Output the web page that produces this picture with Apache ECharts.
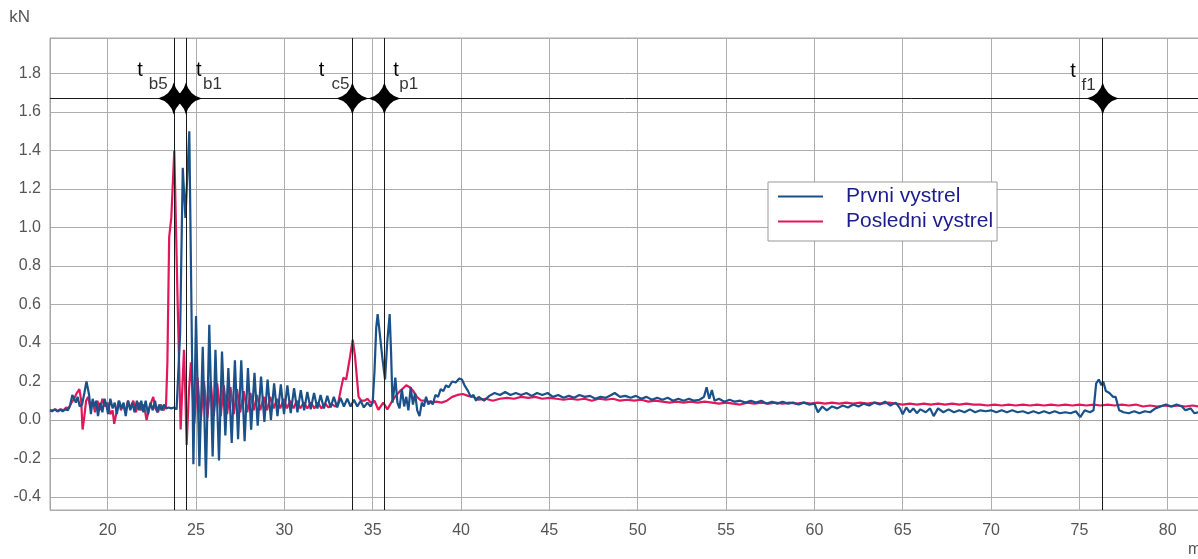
<!DOCTYPE html>
<html><head><meta charset="utf-8">
<script src="https://cdn.jsdelivr.net/npm/echarts@6/dist/echarts.min.js"></script>
<style>html,body{margin:0;padding:0;background:#fff;overflow:hidden}#c{width:1198px;height:559px}</style>
</head><body><div id="c"></div>
<script>
// ---- axis ranges / labels ----
const xRange = [16.735, 81.77];
const yRange = [-0.468, 1.985];
const xName = 'ms';
const yName = 'kN';
const seriesNames = ['Prvni vystrel', 'Posledni vystrel'];

// ---- event markers ----
const markerTimes = [23.74, 24.43, 33.85, 35.66, 76.32];
const markerSubs = ['b5', 'b1', 'c5', 'p1', 'f1'];
const markerLevel = 1.67;

// ---- Prvni vystrel (blue) [ms, kN] ----
const bluePre = [[16.73,0.05],[16.85,0.045],[17.0,0.055],[17.15,0.045],[17.3,0.055],[17.45,0.045],[17.6,0.055],[17.75,0.05],[17.88,0.08],[18.0,0.13],[18.1,0.12],[18.2,0.09],[18.3,0.12],[18.42,0.07],[18.55,0.08],[18.68,0.14],[18.8,0.2],[18.86,0.21],[18.95,0.13],[19.05,0.03],[19.15,0.11],[19.25,0.07],[19.35,0.1],[19.45,0.02],[19.58,0.09],[19.7,0.04],[19.82,0.11],[19.92,0.08],[20.02,0.03],[20.15,0.11],[20.28,0.06],[20.4,0.09],[20.52,0.03],[20.65,0.1],[20.78,0.06],[20.9,0.09],[21.02,0.02],[21.15,0.1],[21.28,0.05],[21.4,0.09],[21.52,0.04],[21.65,0.1],[21.78,0.05],[21.9,0.1],[22.02,0.04],[22.15,0.1],[22.28,0.03],[22.42,0.09],[22.55,0.05],[22.68,0.1],[22.8,0.04],[22.92,0.08],[23.05,0.05],[23.18,0.08],[23.3,0.06],[23.45,0.065],[23.6,0.06],[23.75,0.065],[23.9,0.055],[24.0,0.06]];
const blueImpact = [[24.1,0.45],[24.25,1.31],[24.4,1.05],[24.62,1.5],[24.85,-0.23],[25.0,0.54],[25.19,-0.24],[25.38,0.38],[25.56,-0.3],[25.75,0.495],[25.94,-0.19],[26.1,0.365],[26.3,-0.21],[26.47,0.356],[26.66,-0.08],[26.83,0.27],[27.02,-0.12],[27.2,0.31],[27.38,-0.1],[27.56,0.31],[27.75,-0.11],[27.94,0.27],[28.12,-0.05],[28.31,0.245],[28.49,-0.03],[28.68,0.225],[28.87,-0.01],[29.05,0.21],[29.24,0.0],[29.42,0.19],[29.61,0.02],[29.8,0.185],[29.98,0.03],[30.17,0.18]];
const blueDecay = [[30.36,0.035],[30.55,0.165],[30.74,0.04],[30.93,0.155],[31.12,0.05],[31.3,0.145],[31.49,0.055],[31.68,0.14],[31.87,0.06],[32.05,0.13],[32.24,0.06],[32.43,0.125],[32.62,0.065],[32.8,0.12],[32.99,0.065],[33.18,0.115],[33.37,0.07],[33.56,0.11],[33.75,0.07],[33.94,0.105],[34.13,0.07],[34.32,0.1],[34.5,0.065],[34.7,0.09],[34.88,0.07],[35.0,0.09]];
const blueRebound = [[35.1,0.25],[35.2,0.48],[35.28,0.55],[35.4,0.45],[35.55,0.32],[35.7,0.21],[35.82,0.4],[35.96,0.55],[36.04,0.35],[36.12,0.09],[36.2,0.15],[36.28,0.22],[36.4,0.09],[36.52,0.06],[36.65,0.16],[36.78,0.07],[36.9,0.12],[37.02,0.05],[37.15,0.17],[37.28,0.08],[37.4,0.14],[37.52,0.05],[37.65,0.02],[37.78,0.09],[37.9,0.07],[38.02,0.12],[38.15,0.08],[38.28,0.1],[38.4,0.08],[38.55,0.13],[38.7,0.12],[38.85,0.16],[39.0,0.15],[39.15,0.18],[39.3,0.17],[39.5,0.2],[39.7,0.195],[39.9,0.215],[40.05,0.21],[40.2,0.18],[40.4,0.15],[40.55,0.12],[40.7,0.13],[40.85,0.1],[41.0,0.12]];
const blueTail = [[41.3,0.1],[41.6,0.125],[41.9,0.14],[42.2,0.13],[42.5,0.145],[42.8,0.13],[43.1,0.14],[43.4,0.13],[43.7,0.14],[44.0,0.125],[44.3,0.14],[44.6,0.13],[44.9,0.14],[45.2,0.12],[45.5,0.13],[45.8,0.115],[46.1,0.125],[46.4,0.115],[46.7,0.13],[47.0,0.12],[47.3,0.125],[47.6,0.11],[47.9,0.12],[48.2,0.115],[48.5,0.13],[48.7,0.14],[49.0,0.12],[49.3,0.125],[49.6,0.115],[49.9,0.125],[50.2,0.11],[50.5,0.12],[50.8,0.105],[51.1,0.115],[51.4,0.105],[51.7,0.115],[52.0,0.1],[52.3,0.11],[52.6,0.1],[52.9,0.11],[53.2,0.1],[53.5,0.105],[53.75,0.12],[53.9,0.17],[54.05,0.11],[54.2,0.155],[54.35,0.1],[54.6,0.11],[54.9,0.095],[55.2,0.105],[55.5,0.095],[55.8,0.1],[56.1,0.09],[56.4,0.1],[56.7,0.09],[57.0,0.1],[57.3,0.085],[57.6,0.095],[57.9,0.085],[58.2,0.095],[58.5,0.085],[58.8,0.09],[59.1,0.08],[59.4,0.09],[59.7,0.08],[60.0,0.085],[60.2,0.04],[60.45,0.07],[60.7,0.05],[61.0,0.07],[61.3,0.06],[61.6,0.075],[61.9,0.065],[62.2,0.08],[62.5,0.07],[62.8,0.085],[63.1,0.075],[63.4,0.09],[63.7,0.08],[64.0,0.095],[64.3,0.075],[64.6,0.09],[64.85,0.06],[65.0,0.03],[65.2,0.065],[65.4,0.04],[65.6,0.06],[65.8,0.035],[66.0,0.055],[66.3,0.04],[66.55,0.06],[66.75,0.02],[67.0,0.06],[67.3,0.04],[67.6,0.055],[67.9,0.04],[68.2,0.05],[68.5,0.04],[68.8,0.055],[69.1,0.04],[69.4,0.05],[69.7,0.045],[70.0,0.05],[70.3,0.04],[70.6,0.05],[70.9,0.04],[71.2,0.05],[71.5,0.04],[71.8,0.045],[72.1,0.035],[72.4,0.045],[72.7,0.035],[73.0,0.045],[73.3,0.035],[73.6,0.045],[73.9,0.035],[74.2,0.04],[74.5,0.035],[74.8,0.045],[75.05,0.015],[75.3,0.05],[75.6,0.04],[75.8,0.05],[75.95,0.19],[76.1,0.21],[76.25,0.18],[76.35,0.2],[76.5,0.15],[76.7,0.14],[76.9,0.12],[77.05,0.12],[77.25,0.05],[77.5,0.04],[77.8,0.035],[78.1,0.045],[78.4,0.035],[78.7,0.045],[79.0,0.04],[79.3,0.06],[79.6,0.07],[79.9,0.08],[80.2,0.07],[80.5,0.08],[80.8,0.07],[81.0,0.05],[81.3,0.06],[81.5,0.035],[81.77,0.04]];

// ---- Posledni vystrel (red) [ms, kN] ----
const redPre = [[16.73,0.05],[16.9,0.05],[17.05,0.055],[17.2,0.045],[17.35,0.055],[17.5,0.05],[17.65,0.065],[17.8,0.06],[17.95,0.09],[18.1,0.11],[18.25,0.14],[18.4,0.16],[18.5,0.1],[18.58,-0.05],[18.68,0.02],[18.78,0.1],[18.9,0.12],[19.02,0.06],[19.15,0.1],[19.28,0.04],[19.42,0.1],[19.55,0.05],[19.7,0.11],[19.85,0.07],[20.0,0.09],[20.15,0.03],[20.28,0.05],[20.37,-0.02],[20.5,0.04],[20.62,0.1],[20.75,0.05],[20.88,0.08],[21.0,0.04],[21.15,0.1],[21.3,0.06],[21.45,0.1],[21.6,0.04],[21.75,0.09],[21.9,0.05],[22.05,0.08],[22.2,0.0],[22.35,0.06],[22.5,0.1],[22.58,0.12],[22.7,0.06],[22.85,0.04],[23.0,0.08],[23.15,0.05],[23.3,0.07]];
const redImpact = [[23.38,0.3],[23.48,0.95],[23.6,1.05],[23.77,1.4],[23.95,0.65],[24.13,-0.05],[24.24,0.2],[24.32,0.365],[24.4,0.12],[24.47,-0.13],[24.6,0.15],[24.71,0.3],[24.9,-0.02],[25.08,0.22],[25.27,0.0],[25.45,0.2],[25.64,0.01],[25.83,0.2],[26.0,0.02],[26.2,0.19],[26.4,0.02],[26.57,0.18],[26.76,0.03],[26.95,0.17],[27.14,0.03],[27.32,0.16],[27.5,0.04],[27.7,0.15],[27.9,0.04],[28.08,0.14],[28.27,0.05],[28.45,0.13],[28.64,0.05],[28.83,0.12],[29.02,0.05],[29.2,0.12],[29.4,0.06],[29.58,0.11],[29.77,0.06],[29.96,0.11],[30.15,0.06],[30.33,0.1],[30.52,0.06],[30.7,0.1],[30.9,0.06],[31.1,0.09],[31.3,0.06],[31.5,0.09],[31.7,0.06],[31.9,0.09],[32.1,0.06],[32.3,0.085],[32.5,0.065],[32.7,0.08],[32.9,0.07]];
const redBump = [[33.05,0.09],[33.2,0.16],[33.34,0.22],[33.5,0.21],[33.72,0.33],[33.87,0.417],[34.0,0.33],[34.2,0.12],[34.35,0.1],[34.55,0.1],[34.7,0.11],[34.9,0.09],[35.1,0.1],[35.32,0.053],[35.6,0.09],[35.83,0.055],[36.05,0.09],[36.26,0.12],[36.55,0.15],[36.9,0.18],[37.1,0.17],[37.3,0.15],[37.5,0.12],[37.75,0.1],[38.0,0.1],[38.3,0.09],[38.6,0.095],[38.9,0.09],[39.2,0.1],[39.5,0.12],[39.8,0.13],[40.1,0.135],[40.4,0.125],[40.7,0.12],[41.0,0.105]];
const redTail = [[41.4,0.11],[41.8,0.1],[42.2,0.11],[42.6,0.115],[43.0,0.11],[43.4,0.12],[43.8,0.115],[44.2,0.12],[44.6,0.11],[45.0,0.115],[45.4,0.11],[45.8,0.105],[46.2,0.11],[46.6,0.105],[47.0,0.11],[47.4,0.1],[47.8,0.11],[48.2,0.105],[48.6,0.11],[49.0,0.1],[49.4,0.105],[49.8,0.1],[50.2,0.105],[50.6,0.095],[51.0,0.1],[51.4,0.095],[51.8,0.09],[52.2,0.095],[52.6,0.09],[53.0,0.095],[53.4,0.09],[53.8,0.095],[54.2,0.09],[54.6,0.085],[55.0,0.09],[55.4,0.085],[55.8,0.08],[56.2,0.09],[56.6,0.085],[57.0,0.09],[57.4,0.085],[57.8,0.09],[58.2,0.085],[58.6,0.09],[59.0,0.085],[59.4,0.09],[59.8,0.085],[60.2,0.09],[60.6,0.085],[61.0,0.09],[61.4,0.085],[61.8,0.09],[62.2,0.085],[62.6,0.09],[63.0,0.085],[63.4,0.09],[63.8,0.085],[64.2,0.09],[64.6,0.085],[65.0,0.08],[65.4,0.085],[65.8,0.08],[66.2,0.085],[66.6,0.08],[67.0,0.085],[67.4,0.08],[67.8,0.085],[68.2,0.08],[68.6,0.085],[69.0,0.08],[69.4,0.08],[69.8,0.075],[70.2,0.08],[70.6,0.075],[71.0,0.08],[71.4,0.075],[71.8,0.08],[72.2,0.075],[72.6,0.08],[73.0,0.075],[73.4,0.08],[73.8,0.075],[74.2,0.08],[74.6,0.075],[75.0,0.08],[75.4,0.075],[75.8,0.08],[76.2,0.075],[76.6,0.08],[77.0,0.075],[77.4,0.08],[77.8,0.075],[78.2,0.08],[78.6,0.07],[79.0,0.075],[79.4,0.07],[79.8,0.075],[80.2,0.07],[80.6,0.075],[81.0,0.07],[81.4,0.075],[81.77,0.07]];

// ---- styling (kept separate from data) ----
const blueColor = '#1a5189';
const redColor = '#e2175b';
const labelFont = 'Liberation Sans, Arial, sans-serif';
// label placement of the "t" letter and its subscript relative to each star
const tPlacement = [
  {align: 'right', offset: [-31, -28]},
  {align: 'left',  offset: [10, -28]},
  {align: 'right', offset: [-28, -28]},
  {align: 'left',  offset: [9, -28]},
  {align: 'right', offset: [-27, -27]}
];
const subPlacement = [
  {align: 'right', offset: [-6, -14]},
  {align: 'left',  offset: [17, -14]},
  {align: 'right', offset: [-3, -14]},
  {align: 'left',  offset: [15, -14]},
  {align: 'right', offset: [-7, -13]}
];
const starPath = 'path://M0,-15 Q3,-3 15,0 Q3,3 0,15 Q-3,3 -15,0 Q-3,-3 0,-15 Z';

const blueData = [].concat(bluePre, blueImpact, blueDecay, blueRebound, blueTail);
const redData = [].concat(redPre, redImpact, redBump, redTail);

const starData = markerTimes.map((t, i) => ({value: [t, markerLevel], label: tPlacement[i]}));
const subData = markerTimes.map((t, i) => ({value: [t, markerLevel], sub: markerSubs[i], label: subPlacement[i]}));

const chart = echarts.init(document.getElementById('c'), null, {renderer: 'canvas'});
chart.setOption({
  animation: false,
  backgroundColor: '#fff',
  grid: {left: 50, top: 38, right: -1, bottom: 49, show: true, borderColor: '#a6a6a6', borderWidth: 1,
    backgroundColor: 'transparent', outerBoundsMode: 'none', containLabel: false},
  legend: {
    data: seriesNames,
    orient: 'vertical',
    left: 768, top: 182,
    backgroundColor: '#fff',
    borderColor: '#999', borderWidth: 1, borderRadius: 0,
    padding: [4, 4, 9, 10],
    itemWidth: 45, itemHeight: 2, itemGap: 4,
    icon: 'rect',
    textStyle: {fontFamily: labelFont, fontSize: 21, color: '#1c1c8e', padding: [0, 0, 0, 18]}
  },
  graphic: [{
    type: 'text', left: 1188, top: 542, silent: true,
    style: {text: xName, fontFamily: labelFont, fontSize: 16, fill: '#555'}
  }],
  xAxis: {
    type: 'value', min: xRange[0], max: xRange[1], splitNumber: 13,
    axisLine: {show: true, lineStyle: {color: '#a6a6a6', width: 1}},
    axisTick: {show: false},
    axisLabel: {fontFamily: labelFont, fontSize: 16, color: '#555', margin: 13, showMinLabel: false, showMaxLabel: false,
      formatter: v => (Math.abs(v / 5 - Math.round(v / 5)) < 1e-6 ? String(Math.round(v)) : '')},
    splitLine: {show: true, lineStyle: {color: '#adadad', width: 1}}
  },
  yAxis: {
    type: 'value', min: yRange[0], max: yRange[1], splitNumber: 12,
    name: yName, nameLocation: 'end', nameGap: 12,
    nameTextStyle: {fontFamily: labelFont, fontSize: 17, color: '#555', align: 'right', padding: [0, 20, 0, 0]},
    axisLine: {show: true, lineStyle: {color: '#a6a6a6', width: 1}},
    axisTick: {show: false},
    axisLabel: {fontFamily: labelFont, fontSize: 16, color: '#555', margin: 9, showMinLabel: false, showMaxLabel: false,
      formatter: v => v.toFixed(1)},
    splitLine: {show: true, lineStyle: {color: '#adadad', width: 1}}
  },
  series: [
    {
      name: seriesNames[1], type: 'line', data: redData, showSymbol: false, symbol: 'none',
      lineStyle: {color: redColor, width: 2.2}, itemStyle: {color: redColor}, z: 3, silent: true
    },
    {
      name: seriesNames[0], type: 'line', data: blueData, showSymbol: false, symbol: 'none',
      lineStyle: {color: blueColor, width: 2.2}, itemStyle: {color: blueColor}, z: 4, silent: true
    },
    {
      name: 'events', type: 'scatter', data: starData, z: 6, silent: true,
      symbol: starPath, symbolSize: 32,
      itemStyle: {color: '#000', opacity: 1},
      label: {show: true, position: 'inside', verticalAlign: 'middle', formatter: 't',
        fontFamily: labelFont, fontSize: 20, color: '#000'},
      markLine: {
        silent: true, symbol: ['none', 'none'], label: {show: false},
        lineStyle: {color: '#1a1a1a', width: 1, type: 'solid', opacity: 1},
        emphasis: {disabled: true},
        data: markerTimes.map(t => ({xAxis: t})).concat([{yAxis: markerLevel}])
      }
    },
    {
      name: 'eventSubs', type: 'scatter', data: subData, z: 6, silent: true,
      symbol: 'circle', symbolSize: 0,
      itemStyle: {color: 'rgba(0,0,0,0)'},
      label: {show: true, position: 'inside', verticalAlign: 'middle', formatter: p => p.data.sub,
        fontFamily: labelFont, fontSize: 17, color: '#000'}
    }
  ]
});
</script>
</body></html>
